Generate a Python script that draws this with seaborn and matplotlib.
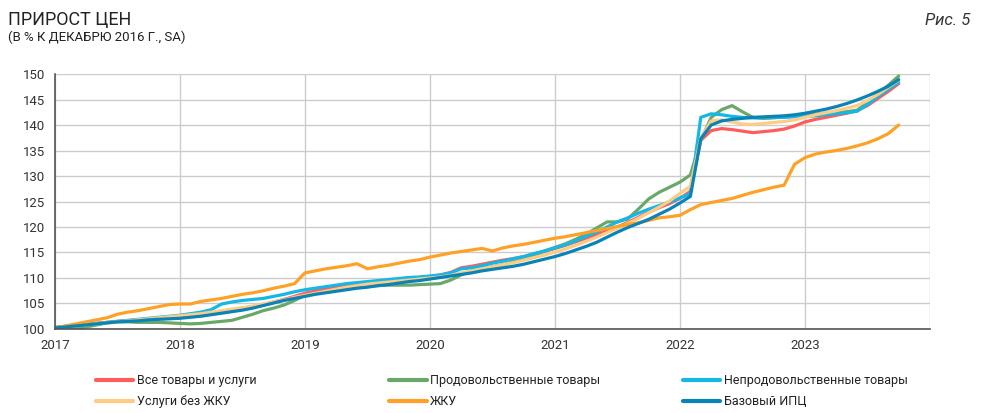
import matplotlib
matplotlib.use('Agg')
import matplotlib.pyplot as plt
import seaborn as sns
import numpy as np
import pandas as pd
from matplotlib.lines import Line2D
from matplotlib import font_manager

# monthly index, Jan 2017 .. Oct 2023 (Dec 2016 = 100, SA)
months = pd.date_range('2017-01-01', '2023-10-01', freq='MS')

all_goods = [
    100.3, 100.5, 100.7, 100.9, 101.1, 101.3, 101.5, 101.6, 101.8, 101.9, 102.1, 102.3,
    102.5, 102.7, 102.9, 103.1, 103.4, 103.7, 104.0, 104.4, 104.8, 105.3, 105.8, 106.4,
    107.0, 107.5, 107.9, 108.3, 108.6, 108.9, 109.1, 109.3, 109.5, 109.7, 109.9, 110.1,
    110.3, 110.6, 111.1, 112.0, 112.3, 112.7, 113.1, 113.5, 113.8, 114.2, 114.7, 115.2,
    115.8, 116.4, 117.1, 117.8, 118.5, 119.2, 120.0, 120.9, 121.9, 122.9, 123.8, 124.6,
    125.6, 127.0, 137.0, 138.9, 139.3, 139.1, 138.8, 138.5, 138.7, 138.9, 139.2, 139.8,
    140.6, 141.1, 141.5, 141.9, 142.3, 142.8, 143.8, 145.2, 146.6, 148.1,
]
food = [
    100.1, 100.0, 100.1, 100.4, 100.8, 101.2, 101.4, 101.4, 101.3, 101.3, 101.3, 101.2,
    101.1, 101.0, 101.1, 101.3, 101.5, 101.7, 102.3, 102.9, 103.6, 104.1, 104.7, 105.6,
    106.6, 107.0, 107.3, 107.6, 107.9, 108.2, 108.4, 108.5, 108.6, 108.6, 108.6, 108.7,
    108.8, 108.9, 109.6, 110.6, 111.4, 111.8, 112.2, 112.6, 113.2, 113.8, 114.5, 115.3,
    116.0, 116.7, 117.6, 118.6, 119.8, 121.0, 121.0, 121.6, 123.5, 125.5, 126.8, 127.8,
    128.8, 130.2, 137.0, 141.5, 143.0, 143.8, 142.6, 141.5, 141.3, 141.4, 141.6, 141.8,
    141.9, 142.1, 142.3, 142.5, 142.6, 142.9, 144.4, 146.1, 147.8, 149.6,
]
nonfood = [
    100.3, 100.5, 100.7, 100.9, 101.1, 101.3, 101.5, 101.7, 101.9, 102.1, 102.3, 102.5,
    102.7, 103.0, 103.3, 103.8, 104.9, 105.3, 105.6, 105.8, 106.0, 106.4, 106.8, 107.3,
    107.7, 108.0, 108.3, 108.6, 108.9, 109.1, 109.3, 109.5, 109.7, 109.9, 110.1, 110.2,
    110.4, 110.6, 111.0, 111.8, 112.0, 112.4, 112.9, 113.3, 113.8, 114.2, 114.8, 115.3,
    115.9, 116.5, 117.3, 118.2, 119.0, 120.0, 121.0, 121.8, 122.7, 123.5, 124.2, 124.9,
    125.7, 126.5, 141.5, 142.2, 142.0, 141.7, 141.5, 141.4, 141.4, 141.5, 141.5, 141.6,
    141.7, 141.8, 142.0, 142.2, 142.4, 142.7, 144.0, 145.6, 147.0, 148.4,
]
services = [
    100.2, 100.4, 100.6, 100.8, 101.0, 101.2, 101.4, 101.6, 101.8, 102.0, 102.2, 102.4,
    102.6, 102.8, 103.0, 103.3, 103.6, 103.9, 104.2, 104.5, 104.9, 105.3, 105.7, 106.2,
    106.6, 107.0, 107.4, 107.8, 108.2, 108.5, 108.8, 109.0, 109.2, 109.4, 109.6, 109.8,
    110.0, 110.2, 110.5, 111.0, 111.4, 111.8, 112.2, 112.6, 113.0, 113.5, 114.0, 114.5,
    115.1, 115.7, 116.4, 117.2, 118.0, 118.9, 119.8, 120.7, 121.7, 122.8, 123.9, 125.1,
    126.6, 128.0, 137.5, 140.8, 141.0, 140.6, 140.2, 140.1, 140.3, 140.5, 140.7, 141.0,
    141.5, 142.0, 142.4, 142.8, 143.3, 143.8, 144.8, 146.0, 147.4, 148.8,
]
housing = [
    100.2, 100.6, 101.0, 101.4, 101.8, 102.2, 102.9, 103.3, 103.6, 104.0, 104.4, 104.8,
    104.9, 104.9, 105.4, 105.7, 106.0, 106.4, 106.8, 107.1, 107.5, 108.0, 108.4, 108.9,
    111.0, 111.4, 111.8, 112.1, 112.4, 112.8, 111.8, 112.2, 112.5, 112.9, 113.3, 113.6,
    114.1, 114.5, 114.9, 115.2, 115.5, 115.8, 115.3, 115.9, 116.3, 116.6, 117.0, 117.4,
    117.8, 118.1, 118.5, 118.9, 119.3, 119.7, 120.1, 120.5, 120.8, 121.3, 121.8, 122.0,
    122.3, 123.4, 124.4, 124.8, 125.2, 125.6, 126.2, 126.8, 127.3, 127.8, 128.2, 132.3,
    133.6, 134.3, 134.7, 135.0, 135.4, 135.9, 136.5, 137.3, 138.3, 140.0,
]
core = [
    100.2, 100.4, 100.6, 100.8, 101.0, 101.2, 101.4, 101.5, 101.6, 101.8, 101.9, 102.0,
    102.1, 102.3, 102.5, 102.8, 103.1, 103.4, 103.7, 104.1, 104.6, 105.1, 105.6, 106.0,
    106.4, 106.8, 107.1, 107.4, 107.7, 108.0, 108.2, 108.5, 108.7, 109.0, 109.3, 109.5,
    109.8, 110.1, 110.4, 110.7, 111.0, 111.4, 111.7, 112.0, 112.3, 112.7, 113.2, 113.7,
    114.2, 114.8, 115.5, 116.2, 117.0, 118.0, 119.0, 119.9, 120.7, 121.5, 122.5, 123.5,
    124.7, 126.0, 137.3, 140.0, 140.8, 141.1, 141.3, 141.5, 141.6, 141.7, 141.8, 142.0,
    142.3, 142.7, 143.1, 143.6, 144.2, 144.9, 145.7, 146.6, 147.6, 148.9,
]

names = ['Все товары и услуги', 'Продовольственные товары', 'Непродовольственные товары',
         'Услуги без ЖКУ', 'ЖКУ', 'Базовый ИПЦ']
series = [all_goods, food, nonfood, services, housing, core]
colors = ['#ff5c5c', '#6aa86a', '#14b8e6', '#ffcb85', '#ffa126', '#0a84b8']

year_ticks = [2017, 2018, 2019, 2020, 2021, 2022, 2023]

xpos = months.year + (months.month - 1) / 12.0
df = pd.concat([pd.DataFrame({'x': xpos, 'value': s, 'series': n})
                for n, s in zip(names, series)], ignore_index=True)

sns.set_style('white')
available = {f.name for f in font_manager.fontManager.ttflist}
fams = [f for f in ['Liberation Sans Narrow', 'DejaVu Sans Condensed', 'Roboto'] if f in available]
plt.rcParams['font.family'] = fams + ['DejaVu Sans']

fig = plt.figure(figsize=(9.85, 4.13), dpi=100)
ax = fig.add_axes([0.0558, 0.2034, 0.8883, 0.6174])

sns.lineplot(data=df, x='x', y='value', hue='series', hue_order=names,
             palette=colors, linewidth=2.3, ax=ax, legend=False)

ax.set_xlim(2017, 2024)
ax.set_ylim(100, 150)
ax.set_xticks(year_ticks + [2024])
ax.set_xticklabels([str(y) for y in year_ticks] + [''])
ax.set_yticks(range(100, 151, 5))
ax.grid(True, color='#cccccc', linewidth=1)
ax.set_axisbelow(True)
for s in ['top', 'right']:
    ax.spines[s].set_visible(False)
for s in ['left', 'bottom']:
    ax.spines[s].set_color('#555555')
    ax.spines[s].set_linewidth(1.2)
ax.tick_params(axis='x', direction='out', length=5, color='#555555', labelsize=9.5,
               labelcolor='#333333', pad=2)
ax.tick_params(axis='y', direction='out', length=4, color='#555555', labelsize=9.5,
               labelcolor='#333333', pad=3)
ax.set_xlabel('')
ax.set_ylabel('')

fig.text(0.008, 0.94, 'ПРИРОСТ ЦЕН', fontsize=13, color='#222222')
fig.text(0.008, 0.9, '(В % К ДЕКАБРЮ 2016 Г., SA)', fontsize=9.5, color='#222222')
fig.text(0.985, 0.94, 'Рис. 5', fontsize=12, style='italic', color='#333333', ha='right')

# three legend columns
col_x = [0.097, 0.395, 0.693]
for k in range(3):
    idx = [k, k + 3]
    handles = [Line2D([0], [0], color=colors[i], linewidth=3) for i in idx]
    fig.legend(handles, [names[i] for i in idx], loc='upper left',
               bbox_to_anchor=(col_x[k], 0.094), frameon=False, fontsize=9,
               handlelength=3.0, handletextpad=0.3, labelspacing=0.62,
               borderaxespad=0, borderpad=0, labelcolor='#222222')

fig.savefig('out.png', dpi=100)
